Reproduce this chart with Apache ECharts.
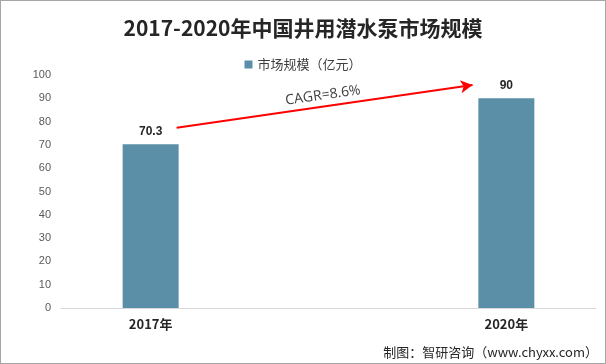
<!DOCTYPE html>
<html><head><meta charset="utf-8">
<script src="https://cdn.jsdelivr.net/npm/echarts@6/dist/echarts.min.js"></script>
<style>
html,body{margin:0;padding:0;background:#fff;}
#c{width:606px;height:364px;box-sizing:border-box;border:1px solid #a6a6a6;}
</style></head><body>
<div id="c"></div>
<script>
const categories = ['2017年', '2020年'];
const seriesName = '市场规模（亿元）';
const values = [70.3, 90];
const yTicks = [0, 10, 20, 30, 40, 50, 60, 70, 80, 90, 100];
const cagrText = 'CAGR=8.6%';
const arrowStart = [0.073, 77.4];
const arrowEnd = [0.905, 95.7];

const chart = echarts.init(document.getElementById('c'));
const cjk = '"Noto Sans CJK SC", "Noto Sans", sans-serif';
chart.setOption({
  animation: false,
  title: {
    text: '2017-2020年中国井用潜水泵市场规模',
    left: 'center', top: 12,
    textStyle: { fontFamily: cjk, fontWeight: 'bold', fontSize: 21, color: '#262626' }
  },
  legend: {
    top: 52, left: 'center',
    icon: 'rect', itemWidth: 8, itemHeight: 8, itemGap: 4,
    textStyle: { fontFamily: cjk, fontSize: 13, color: '#404040' },
    data: [seriesName]
  },
  grid: { left: 60, right: 9, top: 74, bottom: 55 },
  xAxis: {
    type: 'value', min: -0.252, max: 1.252,
    splitLine: { show: false },
    axisTick: { show: false },
    axisLine: { show: true, lineStyle: { color: '#d9d9d9' } },
    axisLabel: {
      customValues: [0, 1],
      formatter: v => categories[Math.round(v)],
      fontFamily: cjk, fontWeight: 'bold', fontSize: 13, color: '#262626', margin: 10
    }
  },
  yAxis: {
    type: 'value', min: yTicks[0], max: yTicks[yTicks.length - 1], interval: 10,
    splitLine: { show: false },
    axisLine: { show: false }, axisTick: { show: false },
    axisLabel: { fontFamily: '"Liberation Sans", sans-serif', fontSize: 11, color: '#595959', margin: 10 }
  },
  series: [{
    name: seriesName, type: 'bar', barWidth: 56,
    data: values.map((v, i) => [i, v]),
    itemStyle: { color: '#5b8fa7' },
    label: { show: true, position: 'top', distance: 7, fontFamily: '"Liberation Sans", sans-serif', fontWeight: 'bold', fontSize: 12, color: '#262626' },
    markLine: {
      silent: true,
      symbol: ['none', 'arrow'], symbolSize: [10, 12],
      lineStyle: { color: '#ff0000', width: 2, type: 'solid' },
      label: { show: true, position: 'middle', formatter: cagrText, fontFamily: '"Open Sans", "Noto Sans", sans-serif', fontSize: 14, color: '#404040', distance: [9, 4] },
      data: [[{ coord: arrowStart }, { coord: arrowEnd }]]
    }
  }],
  graphic: [{
    type: 'text', right: 7, bottom: 4,
    style: { text: '制图：智研咨询（www.chyxx.com）', font: '13px "Noto Sans CJK SC", sans-serif', fill: '#262626' }
  }]
});
</script>
</body></html>
